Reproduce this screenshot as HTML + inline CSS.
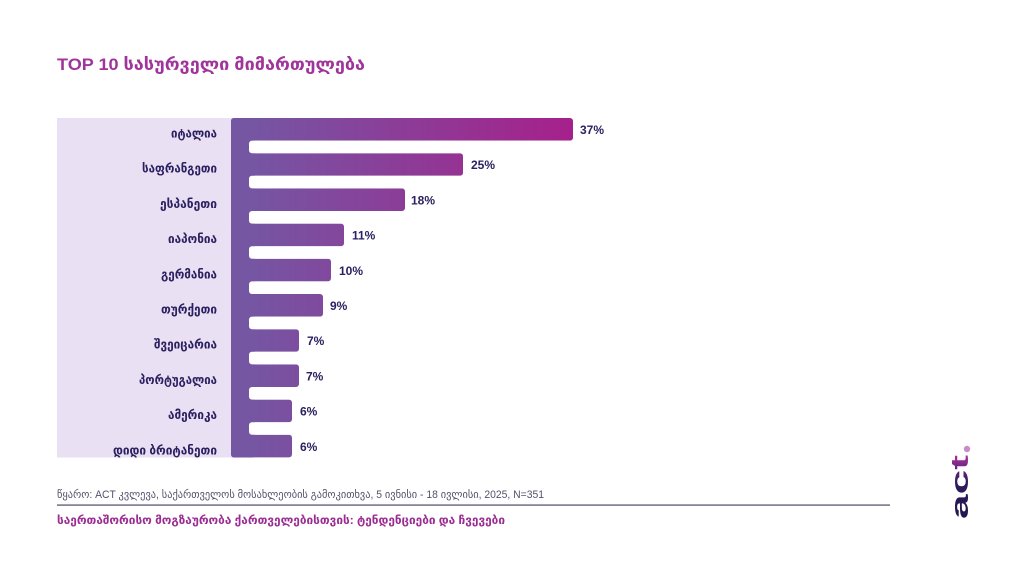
<!DOCTYPE html>
<html>
<head>
<meta charset="utf-8">
<style>
  html,body{margin:0;padding:0;background:#ffffff;}
  svg{display:block;}
  .cat{font-family:"Liberation Sans","DejaVu Sans",sans-serif;font-weight:bold;font-size:12.5px;fill:#2b2060;}
  .val{font-family:"Liberation Sans","DejaVu Sans",sans-serif;font-weight:bold;font-size:12px;fill:#2b2060;}
</style>
</head>
<body>
<svg width="1024" height="576" viewBox="0 0 1024 576" xmlns="http://www.w3.org/2000/svg">
  <defs>
    <linearGradient id="g" gradientUnits="userSpaceOnUse" x1="250" y1="0" x2="573" y2="0">
      <stop offset="0" stop-color="#7556a3"/>
      <stop offset="1" stop-color="#a6208b"/>
    </linearGradient>
    <linearGradient id="lg" gradientUnits="userSpaceOnUse" x1="0" y1="0" x2="64" y2="0">
      <stop offset="0" stop-color="#22164d"/>
      <stop offset="0.55" stop-color="#2f1a5e"/>
      <stop offset="0.8" stop-color="#6a2680"/>
      <stop offset="1" stop-color="#b0309a"/>
    </linearGradient>
  </defs>

  <!-- Title -->
  <text x="57" y="70" font-family="Liberation Sans, DejaVu Sans, sans-serif" font-weight="bold" font-size="17" fill="#a0349a" textLength="308" lengthAdjust="spacingAndGlyphs">TOP 10 სასურველი მიმართულება</text>

  <!-- Lavender label panel -->
  <rect x="57" y="118" width="178" height="339.5" fill="#e9e0f4"/>

  <!-- Vertical band -->
  <rect x="231" y="118" width="24" height="339.5" rx="3" fill="url(#g)"/>

  <!-- Bars -->
  <rect x="231" y="118" width="342" height="22.6" rx="3" fill="url(#g)"/>
  <rect x="231" y="153.2" width="232" height="22.6" rx="3" fill="url(#g)"/>
  <rect x="231" y="188.4" width="174" height="22.6" rx="3" fill="url(#g)"/>
  <rect x="231" y="223.6" width="113" height="22.6" rx="3" fill="url(#g)"/>
  <rect x="231" y="258.8" width="100" height="22.6" rx="3" fill="url(#g)"/>
  <rect x="231" y="294" width="92" height="22.6" rx="3" fill="url(#g)"/>
  <rect x="231" y="329.2" width="68" height="22.6" rx="3" fill="url(#g)"/>
  <rect x="231" y="364.4" width="68" height="22.6" rx="3" fill="url(#g)"/>
  <rect x="231" y="399.6" width="61" height="22.6" rx="3" fill="url(#g)"/>
  <rect x="231" y="434.8" width="61" height="22.6" rx="3" fill="url(#g)"/>

  <!-- White gaps with rounded left corners -->
  <rect x="249" y="140.6" width="400" height="12.6" rx="3" fill="#ffffff"/>
  <rect x="249" y="175.8" width="400" height="12.6" rx="3" fill="#ffffff"/>
  <rect x="249" y="211" width="400" height="12.6" rx="3" fill="#ffffff"/>
  <rect x="249" y="246.2" width="400" height="12.6" rx="3" fill="#ffffff"/>
  <rect x="249" y="281.4" width="400" height="12.6" rx="3" fill="#ffffff"/>
  <rect x="249" y="316.6" width="400" height="12.6" rx="3" fill="#ffffff"/>
  <rect x="249" y="351.8" width="400" height="12.6" rx="3" fill="#ffffff"/>
  <rect x="249" y="387" width="400" height="12.6" rx="3" fill="#ffffff"/>
  <rect x="249" y="422.2" width="400" height="12.6" rx="3" fill="#ffffff"/>

  <!-- Category labels -->
  <g class="cat" text-anchor="end">
    <text x="217" y="137.5" textLength="46" lengthAdjust="spacingAndGlyphs">იტალია</text>
    <text x="217" y="172.7" textLength="75" lengthAdjust="spacingAndGlyphs">საფრანგეთი</text>
    <text x="217" y="207.9" textLength="57" lengthAdjust="spacingAndGlyphs">ესპანეთი</text>
    <text x="217" y="243.1" textLength="49" lengthAdjust="spacingAndGlyphs">იაპონია</text>
    <text x="217" y="278.3" textLength="56" lengthAdjust="spacingAndGlyphs">გერმანია</text>
    <text x="217" y="313.5" textLength="56" lengthAdjust="spacingAndGlyphs">თურქეთი</text>
    <text x="217" y="348.7" textLength="63" lengthAdjust="spacingAndGlyphs">შვეიცარია</text>
    <text x="217" y="383.9" textLength="78" lengthAdjust="spacingAndGlyphs">პორტუგალია</text>
    <text x="217" y="419.1" textLength="49" lengthAdjust="spacingAndGlyphs">ამერიკა</text>
    <text x="217" y="454.3" textLength="104" lengthAdjust="spacingAndGlyphs">დიდი ბრიტანეთი</text>
  </g>

  <!-- Value labels -->
  <g class="val">
    <text x="580" y="134">37%</text>
    <text x="471" y="169.2">25%</text>
    <text x="411" y="204.4">18%</text>
    <text x="352" y="239.6">11%</text>
    <text x="339" y="274.8">10%</text>
    <text x="330" y="310">9%</text>
    <text x="307" y="345.2">7%</text>
    <text x="306" y="380.4">7%</text>
    <text x="300" y="415.6">6%</text>
    <text x="300" y="450.8">6%</text>
  </g>

  <!-- Source note -->
  <text x="57" y="498" font-family="Liberation Sans, DejaVu Sans, sans-serif" font-size="11" fill="#55506a" textLength="487" lengthAdjust="spacingAndGlyphs">წყარო: ACT კვლევა, საქართველოს მოსახლეობის გამოკითხვა, 5 ივნისი - 18 ივლისი, 2025, N=351</text>

  <!-- Divider -->
  <rect x="57" y="504.3" width="833" height="1.6" fill="#7b7690"/>

  <!-- Footer title -->
  <text x="57" y="524" font-family="Liberation Sans, DejaVu Sans, sans-serif" font-weight="bold" font-size="11.5" fill="#9b2d92" textLength="448" lengthAdjust="spacingAndGlyphs">საერთაშორისო მოგზაურობა ქართველებისთვის: ტენდენციები და ჩვევები</text>

  <!-- Logo -->
  <text transform="translate(968,519) rotate(-90)" x="0" y="0" font-family="Liberation Sans, DejaVu Sans, sans-serif" font-weight="bold" font-size="24" fill="url(#lg)" textLength="64" lengthAdjust="spacingAndGlyphs">act</text>
  <circle cx="967" cy="449" r="3.2" fill="#c98cc6"/>
</svg>
</body>
</html>
